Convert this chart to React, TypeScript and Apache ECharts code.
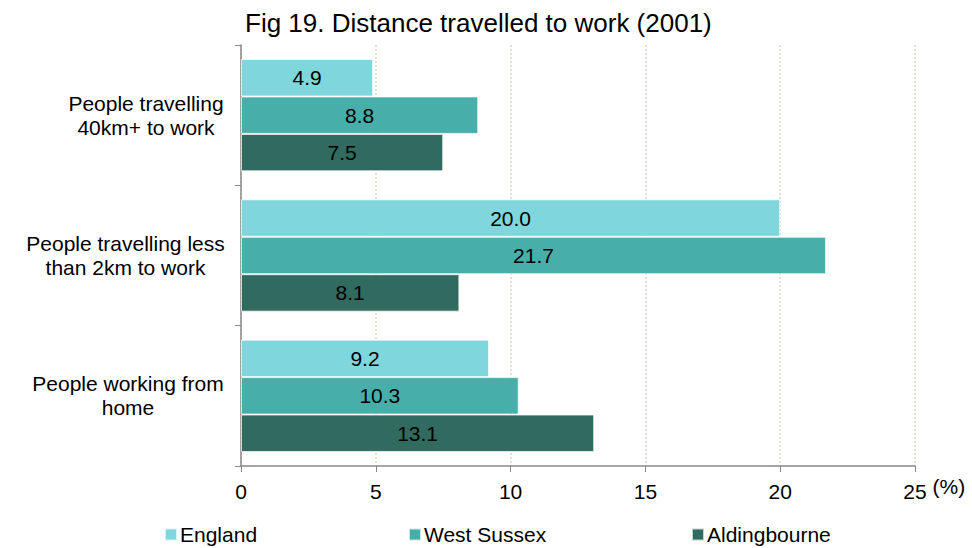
import React, { useEffect, useRef } from "react";
import * as echarts from "echarts";

const categories = [
  "People travelling\n40km+ to work",
  "People travelling less\nthan 2km to work",
  "People working from\nhome",
];
const seriesNames = ["England", "West Sussex", "Aldingbourne"];
const england = [4.9, 20.0, 9.2];
const westSussex = [8.8, 21.7, 10.3];
const aldingbourne = [7.5, 8.1, 13.1];
const colors = ["#7fd6dd", "#48aeaa", "#316b5f"];
const richKeys = ["a", "b", "c"];

const FONT = "'Liberation Sans', Arial, sans-serif";

export default function App() {
  const ref = useRef<HTMLDivElement>(null);
  useEffect(() => {
    if (!ref.current) return;
    const chart = echarts.init(ref.current, null, { renderer: "svg" });
    const values = [england, westSussex, aldingbourne];
    const legendLefts = [164, 408, 691];
    chart.setOption({
      animation: false,
      textStyle: { fontFamily: FONT, color: "#000" },
      title: {
        text: "Fig 19. Distance travelled to work (2001)",
        left: 240,
        top: 5,
        textStyle: { fontFamily: FONT, fontSize: 26, fontWeight: "normal", color: "#000" },
      },
      legend: seriesNames.map((n, i) => ({
        data: [n],
        left: legendLefts[i],
        top: 524,
        padding: 0,
        itemWidth: 12,
        itemHeight: 12,
        itemGap: 4,
        icon: "rect",
        textStyle: { fontFamily: FONT, fontSize: 21, color: "#000", padding: [0, 0, 0, -2] },
      })),
      grid: { left: 241, right: 57, top: 45, bottom: 82, containLabel: false },
      xAxis: {
        type: "value",
        min: 0,
        max: 25,
        interval: 5,
        name: "(%)",
        nameLocation: "end",
        nameGap: 4,
        nameTextStyle: { fontFamily: FONT, fontSize: 21, color: "#000", verticalAlign: "top", padding: [10, 0, 0, 0] },
        axisLine: { show: true, lineStyle: { color: "#888", width: 1.5 } },
        axisTick: { show: true, length: 6, lineStyle: { color: "#888" } },
        axisLabel: { fontFamily: FONT, fontSize: 21, color: "#000", margin: 15 },
        splitLine: { show: true, lineStyle: { color: "#ddd6bd", type: [2, 2], width: 1.5 } },
      },
      yAxis: {
        type: "category",
        inverse: true,
        data: categories,
        axisLine: { show: true, lineStyle: { color: "#888", width: 1.5 } },
        axisTick: { show: true, length: 6, lineStyle: { color: "#888" } },
        axisLabel: {
          margin: 14,
          align: "right",
          formatter: (v: string, i: number) =>
            v
              .split("\n")
              .map((line) => `{${richKeys[i]}|${line}}`)
              .join("\n"),
          rich: {
            a: { width: 162, align: "center", fontFamily: FONT, fontSize: 21, lineHeight: 24, color: "#000" },
            b: { width: 203, align: "center", fontFamily: FONT, fontSize: 21, lineHeight: 24, color: "#000" },
            c: { width: 198, align: "center", fontFamily: FONT, fontSize: 21, lineHeight: 24, color: "#000" },
          },
        },
      },
      series: seriesNames.map((n, i) => ({
        name: n,
        type: "bar",
        data: values[i],
        barGap: "0%",
        barCategoryGap: "20%",
        itemStyle: { color: colors[i], borderColor: "rgba(255,255,255,0.7)", borderWidth: 1 },
        label: {
          show: true,
          position: "inside",
          formatter: (p: any) => Number(p.value).toFixed(1),
          fontFamily: FONT,
          fontSize: 21,
          color: "#000",
        },
      })),
    });
    return () => chart.dispose();
  }, []);
  return (
    <div
      ref={ref}
      style={{ position: "absolute", left: 0, top: 0, width: 972, height: 548 }}
    />
  );
}
